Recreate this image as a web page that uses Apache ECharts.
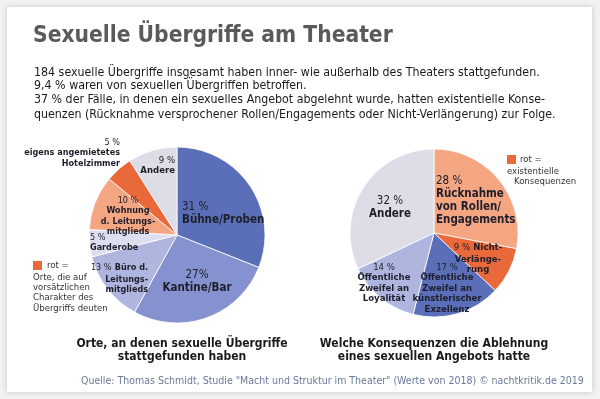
<!DOCTYPE html>
<html>
<head>
<meta charset="utf-8">
<script src="https://cdn.jsdelivr.net/npm/echarts@6/dist/echarts.min.js"></script>
<style>
html, body { margin: 0; padding: 0; background: #f2f2f2; }
#chart { width: 600px; height: 399px; }
</style>
</head>
<body>
<div id="chart"></div>
<script>
var FONT = '"DejaVu Sans Condensed", "DejaVu Sans", sans-serif';

// linke Torte: Orte
var placeNames = ['Bühne/Proben', 'Kantine/Bar', 'Büro d.\nLeitungs-\nmitglieds', 'Garderobe',
    'Wohnung\nd. Leitungs-\nmitglieds', 'eigens angemietetes\nHotelzimmer', 'Andere'];
var placeValues = [31, 27, 13, 5, 10, 5, 9];
var placePct = ['31 %', '27%', '13 %', '5 %', '10 %', '5 %', '9 %'];
var placeColors = ['#5b6fb8', '#8592cf', '#aeb5de', '#dcdff0', '#f4a683', '#e9693b', '#dcdde6'];

// rechte Torte: Konsequenzen
var consNames = ['Rücknahme\nvon Rollen/\nEngagements', 'Nicht-\nVerlänge-\nrung',
    'Öffentliche\nZweifel an\nkünstlerischer\nExzellenz', 'Öffentliche\nZweifel an\nLoyalität', 'Andere'];
var consValues = [28, 9, 17, 14, 32];
var consPct = ['28 %', '9 %', '17 %', '14 %', '32 %'];
var consColors = ['#f4a683', '#e9693b', '#5b6fb8', '#aeb5de', '#dcdde6'];

var titleText = 'Sexuelle Übergriffe am Theater';
var introLines = [
    '184 sexuelle Übergriffe insgesamt haben inner- wie außerhalb des Theaters stattgefunden.',
    '9,4 % waren von sexuellen Übergriffen betroffen.',
    '37 % der Fälle, in denen ein sexuelles Angebot abgelehnt wurde, hatten existentielle Konse-',
    'quenzen (Rücknahme versprochener Rollen/Engagements oder Nicht-Verlängerung) zur Folge.'
];
var captionLeft = 'Orte, an denen sexuelle Übergriffe\nstattgefunden haben';
var captionRight = 'Welche Konsequenzen die Ablehnung\neines sexuellen Angebots hatte';
var sourceText = 'Quelle: Thomas Schmidt, Studie "Macht und Struktur im Theater" (Werte von 2018) © nachtkritik.de 2019';

// label placement: [x, top, align, size key, pct inline]
var placeLabelPos = [
    [182, 201, 'left', 'b', false],
    [197, 269, 'center', 'b', false],
    [148, 262, 'right', 's', true],
    [90, 232, 'left', 's', false],
    [128, 195, 'center', 's', false],
    [120, 137, 'right', 's', false],
    [175, 155, 'right', 'm', false]
];
var consLabelPos = [
    [436, 175, 'left', 'b', false],
    [478, 242, 'center', 'm', true],
    [447, 262, 'center', 'm', false],
    [384, 262, 'center', 'm', false],
    [390, 195, 'center', 'b', false]
];

var INK = '#1e1e2a';
var rich = {
    pb: { fontFamily: FONT, fontSize: 11.5, lineHeight: 13, color: INK },
    nb: { fontFamily: FONT, fontSize: 11.5, lineHeight: 13, fontWeight: 'bold', color: INK },
    pm: { fontFamily: FONT, fontSize: 9.5, lineHeight: 10.5, color: INK },
    nm: { fontFamily: FONT, fontSize: 9.5, lineHeight: 10.5, fontWeight: 'bold', color: INK },
    ps: { fontFamily: FONT, fontSize: 9, lineHeight: 10.5, color: INK },
    ns: { fontFamily: FONT, fontSize: 9, lineHeight: 10.5, fontWeight: 'bold', color: INK }
};

function makeFormatter(names, pct, pos) {
    return function (p) {
        var i = p.dataIndex;
        var pk = 'p' + pos[i][3], nk = 'n' + pos[i][3];
        var lines = names[i].split('\n').map(function (l) { return '{' + nk + '|' + l + '}'; });
        if (pos[i][4]) {
            lines[0] = '{' + pk + '|' + pct[i] + '} ' + lines[0];
            return lines.join('\n');
        }
        return '{' + pk + '|' + pct[i] + '}\n' + lines.join('\n');
    };
}

function makeLayout(pos) {
    return function (params) {
        var q = pos[params.dataIndex];
        return { x: q[0], y: q[1], align: q[2], verticalAlign: 'top' };
    };
}

function pieData(names, values, colors) {
    var d = [];
    for (var i = 0; i < values.length; i++) {
        d.push({ name: names[i], value: values[i], itemStyle: { color: colors[i] } });
    }
    return d;
}

function pieSeries(center, radius, names, values, colors, pct, pos) {
    return {
        type: 'pie',
        center: center,
        radius: radius,
        startAngle: 90,
        clockwise: true,
        silent: true,
        animation: false,
        itemStyle: { borderColor: '#ffffff', borderWidth: 0.8 },
        label: {
            show: true,
            position: 'inside',
            formatter: makeFormatter(names, pct, pos),
            rich: rich
        },
        labelLine: { show: false },
        labelLayout: makeLayout(pos),
        data: pieData(names, values, colors)
    };
}

var graphics = [
    {
        type: 'rect', z: -5,
        shape: { x: 7, y: 7, width: 585, height: 385 },
        style: { fill: '#ffffff', shadowBlur: 6, shadowColor: 'rgba(0,0,0,0.18)' }
    },
    {
        type: 'text', left: 33, top: 25,
        style: { text: titleText, font: 'bold 22.6px ' + FONT, fill: '#5a5a5a' }
    }
];
var introY = [73, 86, 100, 115];
introLines.forEach(function (t, i) {
    graphics.push({
        type: 'text', x: 34, y: introY[i],
        style: { text: t, font: '12.3px ' + FONT, fill: '#1a1a1a', verticalAlign: 'middle' }
    });
});
// Hinweise "rot =", Unterschriften, Quelle
var NOTE = '9.5px ' + FONT;
graphics.push(
    { type: 'rect', shape: { x: 33, y: 261, width: 9, height: 9 }, style: { fill: '#e9693b' } },
    { type: 'text', x: 47, y: 266, style: { text: 'rot =', font: NOTE, fill: '#333', verticalAlign: 'middle' } },
    { type: 'text', x: 33, y: 272, style: { text: 'Orte, die auf\nvorsätzlichen\nCharakter des\nÜbergriffs deuten', font: NOTE, fill: '#333', lineHeight: 10.3 } },
    { type: 'rect', shape: { x: 507, y: 155, width: 9, height: 9 }, style: { fill: '#e9693b' } },
    { type: 'text', x: 520, y: 160, style: { text: 'rot =', font: NOTE, fill: '#333', verticalAlign: 'middle' } },
    { type: 'text', x: 507, y: 167, style: { text: 'existentielle', font: NOTE, fill: '#333' } },
    { type: 'text', x: 514, y: 177, style: { text: 'Konsequenzen', font: NOTE, fill: '#333' } },
    { type: 'text', x: 182, y: 337, style: { text: captionLeft, font: 'bold 12px ' + FONT, fill: '#1a1a1a', align: 'center', lineHeight: 13.5 } },
    { type: 'text', x: 434, y: 337, style: { text: captionRight, font: 'bold 12px ' + FONT, fill: '#1a1a1a', align: 'center', lineHeight: 13.5 } },
    { type: 'text', x: 81, y: 381, style: { text: sourceText, font: '10.5px ' + FONT, fill: '#6b7a99', verticalAlign: 'middle' } }
);

var chart = echarts.init(document.getElementById('chart'));
chart.setOption({
    backgroundColor: '#f2f2f2',
    animation: false,
    graphic: graphics,
    series: [
        pieSeries([177, 235], 88, placeNames, placeValues, placeColors, placePct, placeLabelPos),
        pieSeries([434, 233], 84, consNames, consValues, consColors, consPct, consLabelPos)
    ]
});
</script>
</body>
</html>
